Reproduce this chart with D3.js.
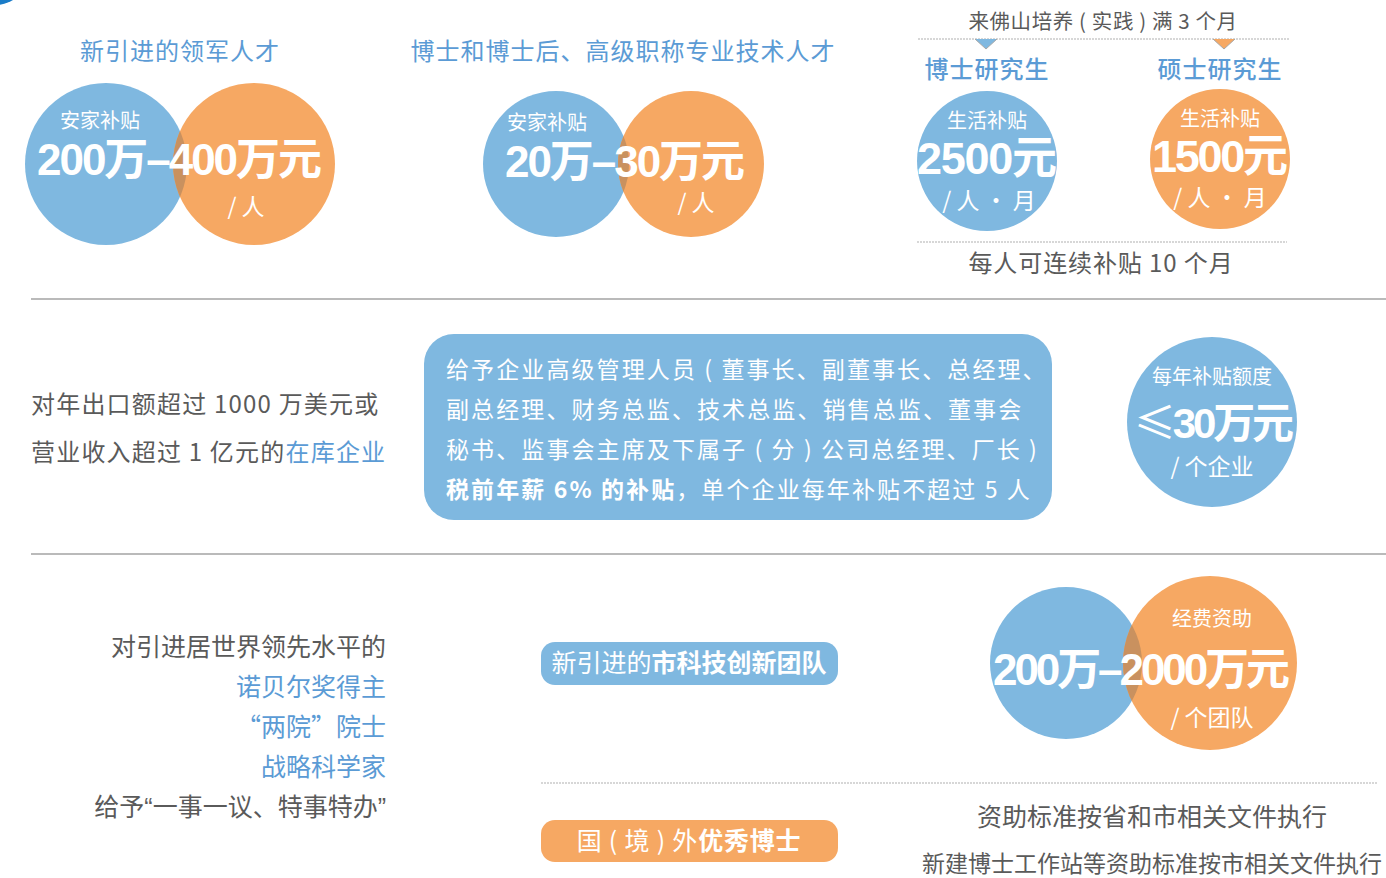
<!DOCTYPE html>
<html>
<head>
<meta charset="utf-8">
<script src="https://cdn.jsdelivr.net/npm/d3@7"></script>
<style>
  html, body { margin: 0; padding: 0; background: #fff; }
  svg { display: block; }
</style>
</head>
<body>
<svg id="chart" width="1386" height="878"></svg>
<script>
// ---------------- DATA ----------------
const sectionTitles = ["新引进的领军人才", "博士和博士后、高级职称专业技术人才"];
const studentTypes = ["博士研究生", "硕士研究生"];
const badgeLabels = ["安家补贴", "安家补贴", "生活补贴", "生活补贴", "每年补贴额度", "经费资助"];
const badgeAmounts = ["200万–400万元", "20万–30万元", "2500元", "1500元", "≤30万元", "200万–2000万元"];
const badgeUnits = ["/ 人", "/ 人", "/ 人 · 月", "/ 人 · 月", "/ 个企业", "/ 个团队"];
const studentNotes = ["来佛山培养 ( 实践 ) 满 3 个月", "每人可连续补贴 10 个月"];
const enterpriseCondition = [
  [{t: "对年出口额超过 1000 万美元或"}],
  [{t: "营业收入超过 1 亿元的"}, {t: "在库企业", blue: true}]
];
const enterpriseBox = [
  [{t: "给予企业高级管理人员 ( 董事长、副董事长、总经理、"}],
  [{t: "副总经理、财务总监、技术总监、销售总监、董事会"}],
  [{t: "秘书、监事会主席及下属子 ( 分 ) 公司总经理、厂长 )"}],
  [{t: "税前年薪 6% 的补贴", bold: true}, {t: "，单个企业每年补贴不超过 5 人"}]
];
const topTalentLines = [
  {t: "对引进居世界领先水平的"},
  {t: "诺贝尔奖得主", blue: true},
  {t: "“两院”院士", blue: true},
  {t: "战略科学家", blue: true},
  {t: "给予“一事一议、特事特办”", latinQuotes: true}
];
const pillTexts = [
  [{t: "新引进的"}, {t: "市科技创新团队", bold: true}],
  [{t: "国 ( 境 ) 外"}, {t: "优秀博士", bold: true}]
];
const fundingNotes = ["资助标准按省和市相关文件执行", "新建博士工作站等资助标准按市相关文件执行"];

// ---------------- STYLE / LAYOUT ----------------
const C = {
  blue: "#7fb8e0", orange: "#f6a863", overlap: "#c9915f",
  title: "#5b9bd5", gray: "#5a5a5a", rule: "#a3a3a3", dash: "#b0b0b0"
};
const CJK = "'Noto Sans CJK SC', 'Noto Sans', sans-serif";
const LATCJK = "'Liberation Sans', 'Noto Sans CJK SC', sans-serif";
const NUM = "'Liberation Sans', 'Noto Sans CJK SC', sans-serif";

const svg = d3.select("#chart");
const defs = svg.append("defs");

// tiny corner shape
svg.append("circle").attr("cx", -5).attr("cy", -30).attr("r", 35).attr("fill", "#1a7cc8");

// separators
const rules = [299, 554];
svg.selectAll("line.rule").data(rules).join("line").attr("class", "rule")
  .attr("x1", 31).attr("x2", 1386).attr("y1", d => d).attr("y2", d => d)
  .attr("stroke", C.rule).attr("stroke-width", 1.5);

// dashed lines
const dashLines = [[918, 1290, 39], [917, 1287, 242], [541, 1378, 783]];
svg.selectAll("line.dash").data(dashLines).join("line").attr("class", "dash")
  .attr("x1", d => d[0]).attr("x2", d => d[1]).attr("y1", d => d[2]).attr("y2", d => d[2])
  .attr("stroke", C.dash).attr("stroke-width", 1.2).attr("stroke-dasharray", "2,1");

// markers under top dashed line
const markers = [{cx: 986, fill: C.blue}, {cx: 1224, fill: C.orange}];
svg.selectAll("path.marker").data(markers).join("path").attr("class", "marker")
  .attr("d", d => `M${d.cx - 11},39 L${d.cx},49 L${d.cx + 11},39 Z`)
  .attr("fill", d => d.fill);
svg.selectAll("path.markerEdge").data(markers).join("path").attr("class", "markerEdge")
  .attr("d", d => `M${d.cx - 11},39 L${d.cx},49 L${d.cx + 11},39`)
  .attr("fill", "none").attr("stroke", "#a8a8a8").attr("stroke-width", 1);

// section titles
const titleLayout = [{x: 180, y: 60}, {x: 623, y: 60}];
svg.selectAll("text.title").data(sectionTitles).join("text").attr("class", "title")
  .attr("x", (d, i) => titleLayout[i].x).attr("y", (d, i) => titleLayout[i].y)
  .attr("text-anchor", "middle").attr("font-family", CJK).attr("font-size", 24)
  .attr("letter-spacing", 1).attr("fill", C.title).text(d => d);

const studentLayout = [{x: 987, y: 78}, {x: 1220, y: 78}];
svg.selectAll("text.stype").data(studentTypes).join("text").attr("class", "stype")
  .attr("x", (d, i) => studentLayout[i].x).attr("y", (d, i) => studentLayout[i].y)
  .attr("text-anchor", "middle").attr("font-family", CJK).attr("font-size", 24)
  .attr("font-weight", 500).attr("letter-spacing", 1).attr("fill", C.title).text(d => d);

const noteLayout = [{x: 1103, y: 29, s: 20.5, ls: 0.6}, {x: 1101, y: 272, s: 24, ls: 0.9}];
svg.selectAll("text.snote").data(studentNotes).join("text").attr("class", "snote")
  .attr("x", (d, i) => noteLayout[i].x).attr("y", (d, i) => noteLayout[i].y)
  .attr("text-anchor", "middle").attr("font-family", CJK).attr("font-size", (d, i) => noteLayout[i].s)
  .attr("letter-spacing", (d, i) => noteLayout[i].ls)
  .attr("fill", C.gray).text(d => d);

// ---------------- BADGES (circles) ----------------
const badgeLayout = [
  {circles: [[106, 164, 81, "blue"], [254, 164, 81, "orange"]], labPos: [100, 128], amtPos: [37, 285, 175, 44], unitPos: [246, 215]},
  {circles: [[556, 164, 73, "blue"], [691, 164, 73, "orange"]], labPos: [547, 130], amtPos: [505, 240, 177, 44], unitPos: [696, 211]},
  {circles: [[987, 161, 70, "blue"]], labPos: [987, 128], amtPos: [917, 140, 174, 45], unitPos: [989, 209]},
  {circles: [[1220, 159, 70, "orange"]], labPos: [1220, 126], amtPos: [1152, 136, 172, 45], unitPos: [1220, 206]},
  {circles: [[1212, 422, 85, "blue"]], labPos: [1212, 384], amtPos: [1134, 160, 438, 42], unitPos: [1212, 475]},
  {circles: [[1066, 663, 76, "blue"], [1210, 663, 87, "orange"]], labPos: [1212, 626], amtPos: [993, 297, 685, 44], unitPos: [1212, 726]}
];
const badges = badgeLabels.map((l, i) => Object.assign({label: l, amount: badgeAmounts[i], unit: badgeUnits[i], i}, badgeLayout[i]));

const bg = svg.selectAll("g.badge").data(badges).join("g").attr("class", "badge");
bg.each(function(d) {
  const g = d3.select(this);
  g.selectAll("circle.c").data(d.circles).join("circle").attr("class", "c")
    .attr("cx", c => c[0]).attr("cy", c => c[1]).attr("r", c => c[2])
    .attr("fill", c => C[c[3]]);
  if (d.circles.length === 2) {
    const o = d.circles[1], b = d.circles[0];
    const id = "clip" + d.i;
    defs.append("clipPath").attr("id", id).append("circle")
      .attr("cx", o[0]).attr("cy", o[1]).attr("r", o[2]);
    g.append("circle").attr("cx", b[0]).attr("cy", b[1]).attr("r", b[2])
      .attr("clip-path", `url(#${id})`).attr("fill", C.overlap);
  }
  g.append("text").attr("x", d.labPos[0]).attr("y", d.labPos[1]).attr("text-anchor", "middle")
    .attr("font-family", CJK).attr("font-size", 20).attr("fill", "#fff").text(d.label);
  const amt = g.append("text").attr("x", d.amtPos[0]).attr("y", d.amtPos[2])
    .attr("textLength", d.amtPos[1]).attr("lengthAdjust", "spacing")
    .attr("font-family", NUM).attr("font-weight", "bold").attr("font-size", d.amtPos[3])
    .attr("fill", "#fff");
  const parts = d.amount.startsWith("≤")
    ? [{t: "≤", thin: true}, {t: d.amount.slice(1)}]
    : [{t: d.amount}];
  amt.selectAll("tspan").data(parts).join("tspan").text(p => p.t)
    .attr("font-weight", p => p.thin ? "normal" : null)
    .attr("font-family", p => p.thin ? CJK : null);
  g.append("text").attr("x", d.unitPos[0]).attr("y", d.unitPos[1]).attr("text-anchor", "middle")
    .attr("font-family", CJK).attr("font-size", 23).attr("fill", "#fff").text(d.unit);
});

// ---------------- ENTERPRISE ROW ----------------
function richLine(sel, parts, opts) {
  const t = sel.append("text").attr("x", opts.x).attr("y", opts.y)
    .attr("text-anchor", opts.anchor || "start").attr("font-family", opts.font || CJK)
    .attr("font-size", opts.size).attr("fill", opts.fill)
    .attr("letter-spacing", opts.ls || 0);
  t.selectAll("tspan").data(parts).join("tspan").text(p => p.t)
    .attr("fill", p => p.blue ? C.title : null)
    .attr("font-family", p => p.latinQuotes ? LATCJK : null)
    .attr("font-weight", p => p.bold ? "bold" : null);
  return t;
}

const condY = [413, 461];
enterpriseCondition.forEach((parts, i) => richLine(svg, parts, {x: 31, y: condY[i], size: 24, fill: C.gray, ls: 1.2}));

svg.append("rect").attr("x", 424).attr("y", 334).attr("width", 628).attr("height", 186)
  .attr("rx", 30).attr("fill", C.blue);
const boxY = [378, 418, 458, 498];
enterpriseBox.forEach((parts, i) => richLine(svg, parts, {x: 446, y: boxY[i], size: 23, fill: "#fff", ls: 2.1}));

// ---------------- TEAM ROW ----------------
const talentY = [656, 696, 736, 776, 816];
topTalentLines.forEach((p, i) => richLine(svg, [p], {x: 386, y: talentY[i], size: 25, fill: C.gray, anchor: "end"}));

const pillLayout = [{y: 642, h: 43, fill: C.blue, ty: 672, ls: 0}, {y: 820, h: 42, fill: C.orange, ty: 850, ls: 0.8}];
pillTexts.forEach((parts, i) => {
  const L = pillLayout[i];
  svg.append("rect").attr("x", 541).attr("y", L.y).attr("width", 297).attr("height", L.h)
    .attr("rx", 14).attr("fill", L.fill);
  richLine(svg, parts, {x: 689, y: L.ty, size: 25, fill: "#fff", anchor: "middle", ls: L.ls});
});

const fundLayout = [{x: 1152, y: 826, s: 25}, {x: 1152, y: 872, s: 23}];
svg.selectAll("text.fund").data(fundingNotes).join("text").attr("class", "fund")
  .attr("x", (d, i) => fundLayout[i].x).attr("y", (d, i) => fundLayout[i].y)
  .attr("text-anchor", "middle").attr("font-family", CJK).attr("font-size", (d, i) => fundLayout[i].s)
  .attr("fill", C.gray).text(d => d);
</script>
</body>
</html>
